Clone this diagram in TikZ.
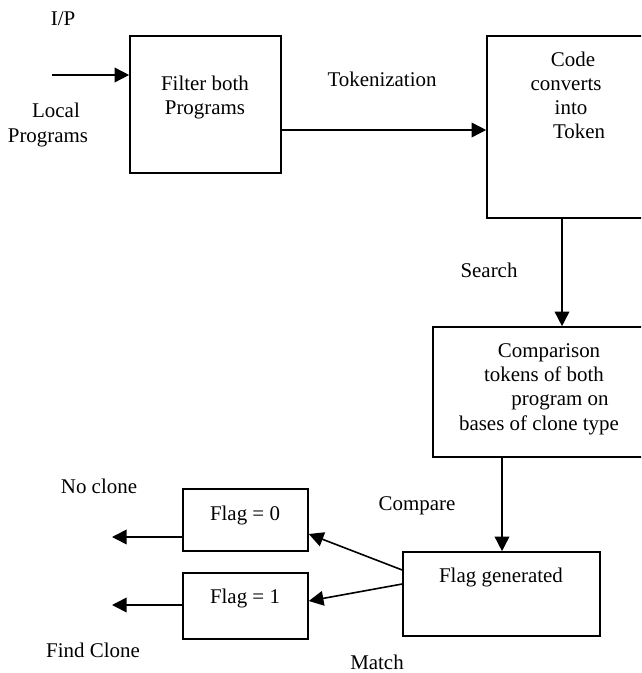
\documentclass[tikz,border=0pt]{standalone}
\usepackage{fontspec}
\setmainfont{Liberation Serif}
\usetikzlibrary{arrows.meta}
\tikzset{
  box/.style={draw, line width=1.2pt, inner sep=0pt},
  txt/.style={font=\fontsize{15.7pt}{18pt}\selectfont, inner sep=0pt, anchor=base},
  arr/.style={line width=1.2pt, -{Triangle[length=11pt,width=11pt]}}
}
\begin{document}
\begin{tikzpicture}[x=0.75pt,y=-0.75pt]
\useasboundingbox (0,0) rectangle (641,673);
\clip (0,0) rectangle (641,673);
% boxes
\node[box, minimum width=113.25pt, minimum height=102.75pt] (b1) at (205.5,104.5) {};
\node[box, minimum width=129.75pt, minimum height=136.5pt] (b2) at (573.5,127) {};
\node[box, minimum width=170.25pt, minimum height=97.5pt] (b3) at (546.5,392) {};
\node[box, minimum width=147.75pt, minimum height=63pt] (b4) at (501.5,594) {};
\node[box, minimum width=93.75pt, minimum height=46.5pt] (f0) at (245.5,520) {};
\node[box, minimum width=93.75pt, minimum height=49.5pt] (f1) at (245.5,606) {};
% box texts (placed by baseline)
\node[txt] (t1a) at (205,91) {Filter both};
\node[txt] (t1b) at (205,115) {Programs};
\node[txt] (t2a) at (573,67) {Code};
\node[txt] (t2b) at (566,91) {converts};
\node[txt] (t2c) at (571,115) {into};
\node[txt] (t2d) at (579,139) {Token};
\node[txt] (t3a) at (549,357) {Comparison};
\node[txt] (t3b) at (544,381) {tokens of both};
\node[txt] (t3c) at (560,405) {program on};
\node[txt] (t3d) at (539,430) {bases of clone type};
\node[txt] (t4) at (501,582) {Flag generated};
\node[txt] (tf0) at (245,520) {Flag = 0};
\node[txt] (tf1) at (245,603) {Flag = 1};
% free labels
\node[txt] (ip) at (63,26) {I/P};
\node[txt] (lp1) at (56,118) {Local};
\node[txt] (lp2) at (48,143) {Programs};
\node[txt] (tok) at (382,87) {Tokenization};
\node[txt] (srch) at (489,277) {Search};
\node[txt] (cmp) at (417,510) {Compare};
\node[txt] (nocl) at (99,493) {No clone};
\node[txt] (fcl) at (93,657) {Find Clone};
\node[txt] (mtch) at (377,669) {Match};
% coordinates
\coordinate (in) at (52,75);
\coordinate (o0) at (112,537);
\coordinate (o1) at (112,605);
\coordinate (y1) at (0,130);
\coordinate (x2) at (562,0);
\coordinate (x3) at (502,0);
% connectors
\draw[arr] (in) -- (in -| b1.west);
\draw[arr] (b1.east |- y1) -- (b2.west |- y1);
\draw[arr] (b2.south -| x2) -- (b3.north -| x2);
\draw[arr] (b3.south -| x3) -- (b4.north -| x3);
\draw[arr] (b4.west |- 0,570) -- (f0.east |- 0,534);
\draw[arr] (b4.west |- 0,584) -- (f1.east |- 0,601);
\draw[arr] (f0.west |- o0) -- (o0);
\draw[arr] (f1.west |- o1) -- (o1);
\end{tikzpicture}
\end{document}
